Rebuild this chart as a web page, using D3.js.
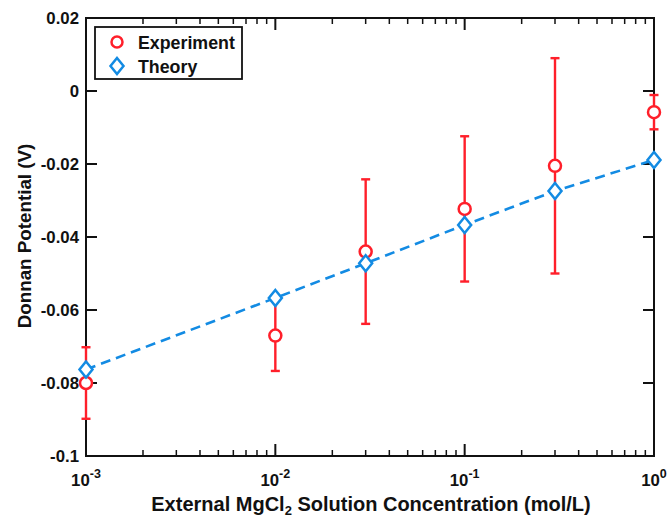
<!DOCTYPE html>
<html>
<head>
<meta charset="utf-8">
<script src="https://cdn.jsdelivr.net/npm/d3@7"></script>
<style>
  html, body { margin: 0; padding: 0; background: #fff; }
  svg { display: block; font-family: "Liberation Sans", Arial, sans-serif; }
</style>
</head>
<body>
<svg id="chart" width="669" height="519"></svg>
<script>
// Concentrations (mol/L)
const concentrations = [0.001, 0.01, 0.03, 0.1, 0.3, 1];
// Measured Donnan potential (V) and its error
const experiment = [-0.0800, -0.0670, -0.0440, -0.0323, -0.0205, -0.0058];
const experimentErr = [0.0098, 0.0097, 0.0198, 0.0199, 0.0295, 0.0047];
// Predicted Donnan potential (V)
const theory = [-0.0763, -0.0567, -0.0472, -0.0367, -0.0274, -0.0189];
// Axis ticks
const yTicks = [0.02, 0, -0.02, -0.04, -0.06, -0.08, -0.1];
const yTickLabels = ["0.02", "0", "-0.02", "-0.04", "-0.06", "-0.08", "-0.1"];
const xTicks = [0.001, 0.01, 0.1, 1];
const xTickExps = ["-3", "-2", "-1", "0"];
const legendLabels = ["Experiment", "Theory"];

const red = "#ff1f2a";
const blue = "#138be3";

const svg = d3.select("#chart");
const m = { left: 86, right: 654, top: 18, bottom: 456 };

const x = d3.scaleLog().domain([0.001, 1]).range([m.left, m.right]);
const y = d3.scaleLinear().domain([-0.1, 0.02]).range([m.bottom, m.top]);

// minor ticks for log axis
const minorX = [];
for (let e = -3; e < 0; e++) {
  for (let k = 2; k <= 9; k++) minorX.push(k * Math.pow(10, e));
}

const axisG = svg.append("g").attr("stroke", "#111").attr("stroke-width", 2);
// frame
axisG.append("rect")
  .attr("x", m.left).attr("y", m.top)
  .attr("width", m.right - m.left).attr("height", m.bottom - m.top)
  .attr("fill", "none");

// x ticks (bottom and top, inward)
xTicks.forEach(v => {
  axisG.append("line").attr("x1", x(v)).attr("x2", x(v)).attr("y1", m.bottom).attr("y2", m.bottom - 12);
  axisG.append("line").attr("x1", x(v)).attr("x2", x(v)).attr("y1", m.top).attr("y2", m.top + 12);
});
minorX.forEach(v => {
  axisG.append("line").attr("x1", x(v)).attr("x2", x(v)).attr("y1", m.bottom).attr("y2", m.bottom - 6).attr("stroke-width", 1.5);
  axisG.append("line").attr("x1", x(v)).attr("x2", x(v)).attr("y1", m.top).attr("y2", m.top + 6).attr("stroke-width", 1.5);
});
// y ticks (left and right, inward)
yTicks.forEach(v => {
  axisG.append("line").attr("x1", m.left).attr("x2", m.left + 11).attr("y1", y(v)).attr("y2", y(v));
  axisG.append("line").attr("x1", m.right).attr("x2", m.right - 11).attr("y1", y(v)).attr("y2", y(v));
});

// y tick labels
svg.append("g").selectAll("text").data(yTicks).join("text")
  .attr("x", m.left - 7).attr("y", d => y(d))
  .attr("dy", "0.36em").attr("text-anchor", "end")
  .attr("font-size", 16.8).attr("font-weight", "bold").attr("fill", "#111")
  .text((d, i) => yTickLabels[i]);

// x tick labels: 10^n
const xl = svg.append("g").selectAll("text").data(xTicks).join("text")
  .attr("x", d => x(d)).attr("y", m.bottom + 30)
  .attr("text-anchor", "middle")
  .attr("font-size", 16.8).attr("font-weight", "bold").attr("fill", "#111");
xl.append("tspan").text("10");
xl.append("tspan").attr("dy", -8).attr("font-size", 12.5).text((d, i) => xTickExps[i]);

// axis titles
const xt = svg.append("text")
  .attr("x", (m.left + m.right) / 2 + 1).attr("y", 511)
  .attr("text-anchor", "middle")
  .attr("font-size", 20).attr("font-weight", "bold").attr("fill", "#111");
xt.append("tspan").text("External MgCl");
xt.append("tspan").attr("dy", 4).attr("font-size", 13).text("2");
xt.append("tspan").attr("dy", -4).text(" Solution Concentration (mol/L)");

svg.append("text")
  .attr("transform", `translate(31,236) rotate(-90)`)
  .attr("text-anchor", "middle")
  .attr("font-size", 18.8).attr("font-weight", "bold").attr("fill", "#111")
  .text("Donnan Potential (V)");

// theory dashed line
const line = d3.line().x(d => x(d[0])).y(d => y(d[1]));
const theoryPts = concentrations.map((c, i) => [c, theory[i]]);
svg.append("path")
  .attr("d", line(theoryPts))
  .attr("fill", "none").attr("stroke", blue)
  .attr("stroke-width", 2.6).attr("stroke-dasharray", "10,6");

// experiment error bars
const eb = svg.append("g").attr("stroke", red).attr("stroke-width", 2.4);
concentrations.forEach((c, i) => {
  const cx = x(c);
  const y0 = y(experiment[i] + experimentErr[i]);
  const y1 = y(experiment[i] - experimentErr[i]);
  eb.append("line").attr("x1", cx).attr("x2", cx).attr("y1", y0).attr("y2", y1);
  eb.append("line").attr("x1", cx - 4.5).attr("x2", cx + 4.5).attr("y1", y0).attr("y2", y0);
  eb.append("line").attr("x1", cx - 4.5).attr("x2", cx + 4.5).attr("y1", y1).attr("y2", y1);
});

// experiment markers
svg.append("g").selectAll("circle").data(concentrations).join("circle")
  .attr("cx", d => x(d)).attr("cy", (d, i) => y(experiment[i]))
  .attr("r", 6).attr("fill", "#fff").attr("stroke", red).attr("stroke-width", 2.5);

// theory markers
const diamond = (cx, cy) => `M${cx},${cy - 8}L${cx + 6.5},${cy}L${cx},${cy + 8}L${cx - 6.5},${cy}Z`;
svg.append("g").selectAll("path").data(concentrations).join("path")
  .attr("d", (d, i) => diamond(x(d), y(theory[i])))
  .attr("fill", "#fff").attr("stroke", blue).attr("stroke-width", 2.5);

// legend
const lg = svg.append("g");
lg.append("rect").attr("x", 95).attr("y", 27).attr("width", 147).attr("height", 52)
  .attr("fill", "#fff").attr("stroke", "#111").attr("stroke-width", 1.8);
lg.append("circle").attr("cx", 117).attr("cy", 42).attr("r", 5.5)
  .attr("fill", "#fff").attr("stroke", red).attr("stroke-width", 2.5);
lg.append("path").attr("d", diamond(117, 66))
  .attr("fill", "#fff").attr("stroke", blue).attr("stroke-width", 2.5);
lg.selectAll("text").data(legendLabels).join("text")
  .attr("x", 138).attr("y", (d, i) => 43 + i * 24).attr("dy", "0.36em")
  .attr("font-size", 17.8).attr("font-weight", "bold").attr("fill", "#111")
  .text(d => d);
</script>
</body>
</html>
